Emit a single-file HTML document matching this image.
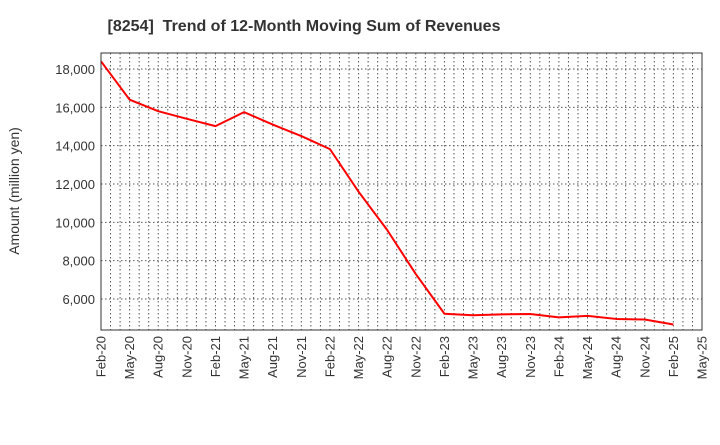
<!DOCTYPE html>
<html><head><meta charset="utf-8"><style>
body{margin:0;background:#fff;font-family:"Liberation Sans",sans-serif}
</style></head><body>
<svg id="chart" width="720" height="440" xmlns="http://www.w3.org/2000/svg"></svg>
<script>
const categories=["Feb-20","May-20","Aug-20","Nov-20","Feb-21","May-21","Aug-21","Nov-21","Feb-22","May-22","Aug-22","Nov-22","Feb-23","May-23","Aug-23","Nov-23","Feb-24","May-24","Aug-24","Nov-24","Feb-25"];
const values=[18400,16400,15800,15400,15020,15750,15100,14500,13820,11600,9600,7300,5230,5150,5200,5220,5040,5120,4960,4930,4670];
const xTickLabels=["Feb-20","May-20","Aug-20","Nov-20","Feb-21","May-21","Aug-21","Nov-21","Feb-22","May-22","Aug-22","Nov-22","Feb-23","May-23","Aug-23","Nov-23","Feb-24","May-24","Aug-24","Nov-24","Feb-25","May-25"];
const yTicks=[6000,8000,10000,12000,14000,16000,18000];
const NS="http://www.w3.org/2000/svg";
const svg=document.getElementById('chart');
const L=101,R=702,T=53,B=330,months=63;
const yMin=4383,yMax=18835;
const xs=m=>L+(R-L)*m/months;
const ys=v=>B-(v-yMin)/(yMax-yMin)*(B-T);
function mk(tag,attrs){const e=document.createElementNS(NS,tag);for(const k in attrs)e.setAttribute(k,attrs[k]);svg.appendChild(e);return e;}
let t=mk('text',{x:304,y:31,'text-anchor':'middle','font-size':16,'font-weight':'bold',fill:'#333'});
t.textContent="[8254]  Trend of 12-Month Moving Sum of Revenues";


t.setAttribute('xml:space','preserve');
t.style.whiteSpace='pre';
for(let m=1;m<months;m++){
 const g=mk('line',{x1:xs(m),x2:xs(m),y1:T,y2:B,stroke:'#555','stroke-width':1,'stroke-dasharray':'1.5,2.5'});
 
 
}
yTicks.forEach(v=>{
 const g=mk('line',{x1:L,x2:R,y1:ys(v),y2:ys(v),stroke:'#555','stroke-width':1,'stroke-dasharray':'1.5,2.5'});
 
 
 const lb=mk('text',{x:L-6,y:ys(v)+5,'text-anchor':'end','font-size':13,fill:'#333'});
 lb.textContent=v.toLocaleString('en-US');
 
 
});
xTickLabels.forEach((s,i)=>{
 const x=xs(i*3);
 const lb=mk('text',{x:x+4.5,y:B+6,'text-anchor':'end','font-size':13,fill:'#333',transform:`rotate(-90 ${x+4.5} ${B+6})`});
 lb.textContent=s;
 
 
});
const yt=mk('text',{x:19,y:191,'text-anchor':'middle','font-size':14,fill:'#333',transform:'rotate(-90 19 191)'});
yt.textContent="Amount (million yen)";


const pts=values.map((v,i)=>xs(i*3)+','+ys(v)).join(' ');
const line=mk('polyline',{points:pts,fill:'none',stroke:'#ff0000','stroke-width':2,'stroke-linejoin':'round'});


const fr=mk('rect',{x:L,y:T,width:R-L,height:B-T,fill:'none',stroke:'#333','stroke-width':1});


</script>
</body></html>
